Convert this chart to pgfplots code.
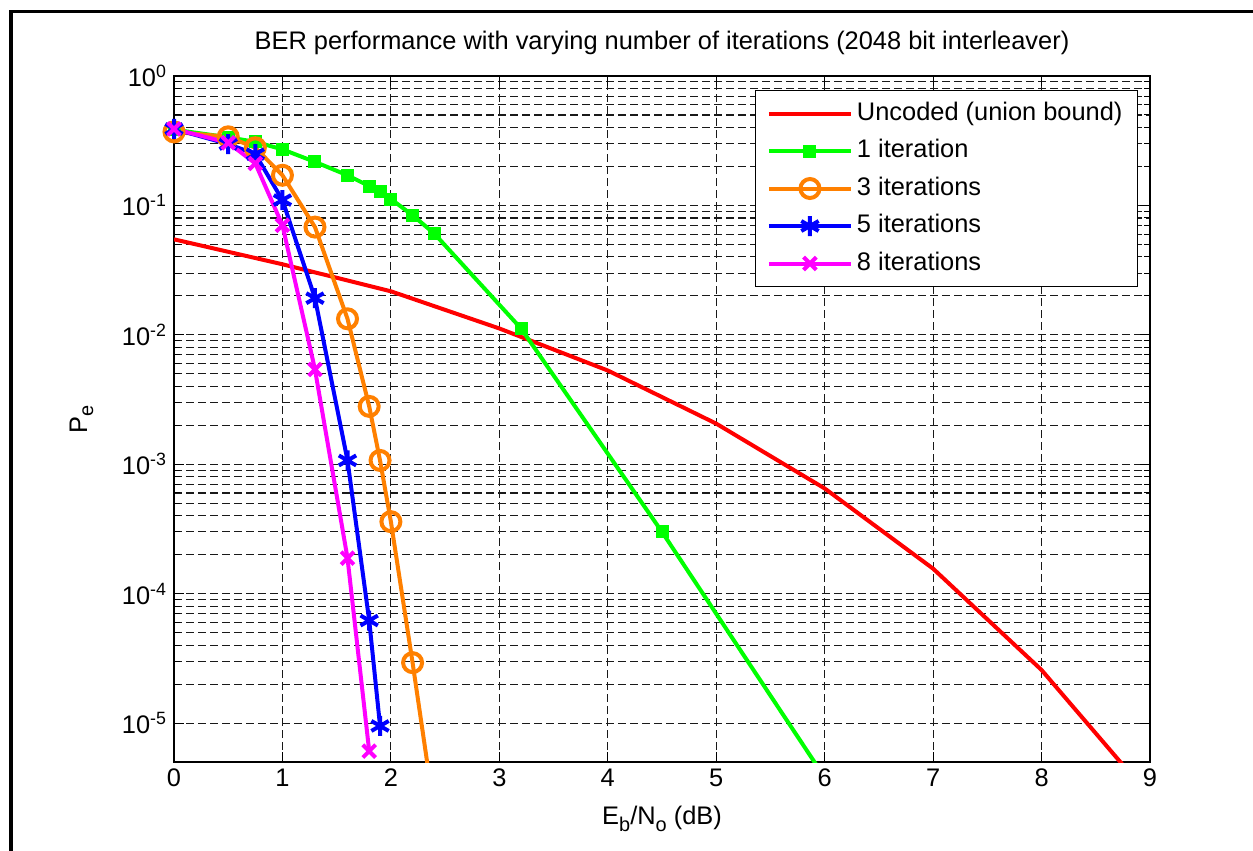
\documentclass[border=0pt]{standalone}
\usepackage{pgfplots}
\pgfplotsset{compat=1.18}
\usepackage{fontspec}
\setmainfont{Liberation Sans}

\newcommand{\fs}{\fontsize{25.5}{30}\selectfont}
\newcommand{\sub}[1]{\raisebox{-0.45ex}{\fontsize{20}{24}\selectfont #1}}

\begin{document}
\begin{tikzpicture}[x=1bp,y=1bp]
\useasboundingbox (0,0) rectangle (1253,-851);
\fill[white] (0,0) rectangle (1253,-851);
% figure frame
\draw[line width=3.3bp] (11,-851) -- (11,-11.5) -- (1253,-11.5);
\begin{axis}[
  at={(174bp,-762bp)}, anchor=south west,
  scale only axis, width=976bp, height=686bp,
  ymode=log,
  xmin=0, xmax=9, ymin=5e-6, ymax=1,
  xtick={0,1,2,3,4,5,6,7,8,9},
  ytick={1e-5,1e-4,1e-3,1e-2,1e-1,1},
  yticklabels={10\textsuperscript{-5},10\textsuperscript{-4},10\textsuperscript{-3},10\textsuperscript{-2},10\textsuperscript{-1},10\textsuperscript{0}},
  /pgf/number format/assume math mode=true,
  tick label style={font=\fs},
  xticklabel style={yshift=-3bp},
  yticklabel style={xshift=-4bp},
  tick align=inside,
  major tick length=10bp, minor tick length=6bp,
  every tick/.style={black, line width=1bp},
  axis line style={line width=1.3bp},
  xmajorgrids=true, ymajorgrids=true, yminorgrids=true,
  major grid style={black!90, line width=1.1bp, dash pattern=on 8bp off 4bp},
  minor grid style={black!90, line width=1.1bp, dash pattern=on 8bp off 4bp},
  title={BER performance with varying number of iterations (2048 bit interleaver)},
  title style={font=\fs, at={(0.5,1.0306)}, anchor=base},
  xlabel={E\sub{b}/N\sub{o} (dB)},
  xlabel style={font=\fs, at={(0.5,-0.0918)}, anchor=base},
  ylabel={P\sub{e}},
  ylabel style={font=\fs, at={(-0.0891,0.5)}, anchor=base, rotate=0},
  legend cell align=left,
  legend style={font=\fs, at={(0.9877,0.9796)}, anchor=north east,
    draw=black, line width=1bp, fill=white,
    inner xsep=11bp, inner ysep=5bp, row sep=1.5bp,
    nodes={text height=18bp, text depth=5bp, inner ysep=6.5bp, inner xsep=4bp}},
  legend image code/.code={\draw[mark repeat=2,mark phase=2,#1] plot coordinates {(0bp,0bp) (41bp,0bp) (82bp,0bp)};},
]
% uncoded reference
\addplot[color={rgb,1:red,1;green,0;blue,0}, line width=4bp] coordinates {
  (0,0.0547) (1,0.0351) (2,0.0217) (3,0.0112) (4,0.0053) (5,0.00206)
  (6,6.5e-4) (7,1.56e-4) (8,2.57e-5) (9,2.7e-6)};
\addlegendentry{Uncoded (union bound)}
% one decoder iteration
\addplot[color={rgb,1:red,0;green,1;blue,0}, line width=4bp, mark=square*, mark size=4.5bp] coordinates {
  (0,0.385) (0.5,0.336) (0.75,0.31) (1,0.271) (1.3,0.217) (1.6,0.171) (1.8,0.141)
  (1.9,0.127) (2,0.112) (2.2,0.084) (2.4,0.0606) (3.2,0.0112) (4.5,3.0e-4) (6,3.8e-6)};
\addlegendentry{1 iteration}
% three iterations
\addplot[color={rgb,1:red,1;green,0.5;blue,0}, line width=4bp, mark=o, mark size=9.5bp] coordinates {
  (0,0.37) (0.5,0.339) (0.75,0.279) (1,0.171) (1.3,0.068) (1.6,0.0133) (1.8,2.8e-3)
  (1.9,1.07e-3) (2.0,3.6e-4) (2.2,2.93e-5) (2.4,2.1e-6)};
\addlegendentry{3 iterations}
% five iterations
\addplot[color={rgb,1:red,0;green,0;blue,1}, line width=4bp, mark=asterisk, mark size=10bp] coordinates {
  (0,0.39) (0.5,0.298) (0.75,0.249) (1,0.11) (1.3,0.0192) (1.6,1.07e-3) (1.8,6.2e-5) (1.9,9.5e-6)};
\addlegendentry{5 iterations}
% eight iterations
\addplot[color={rgb,1:red,1;green,0;blue,1}, line width=4bp, mark=x, mark size=9bp] coordinates {
  (0,0.39) (0.5,0.305) (0.75,0.211) (1,0.0703) (1.3,5.4e-3) (1.6,1.88e-4) (1.8,6.07e-6)};
\addlegendentry{8 iterations}
\end{axis}
\end{tikzpicture}
\end{document}
